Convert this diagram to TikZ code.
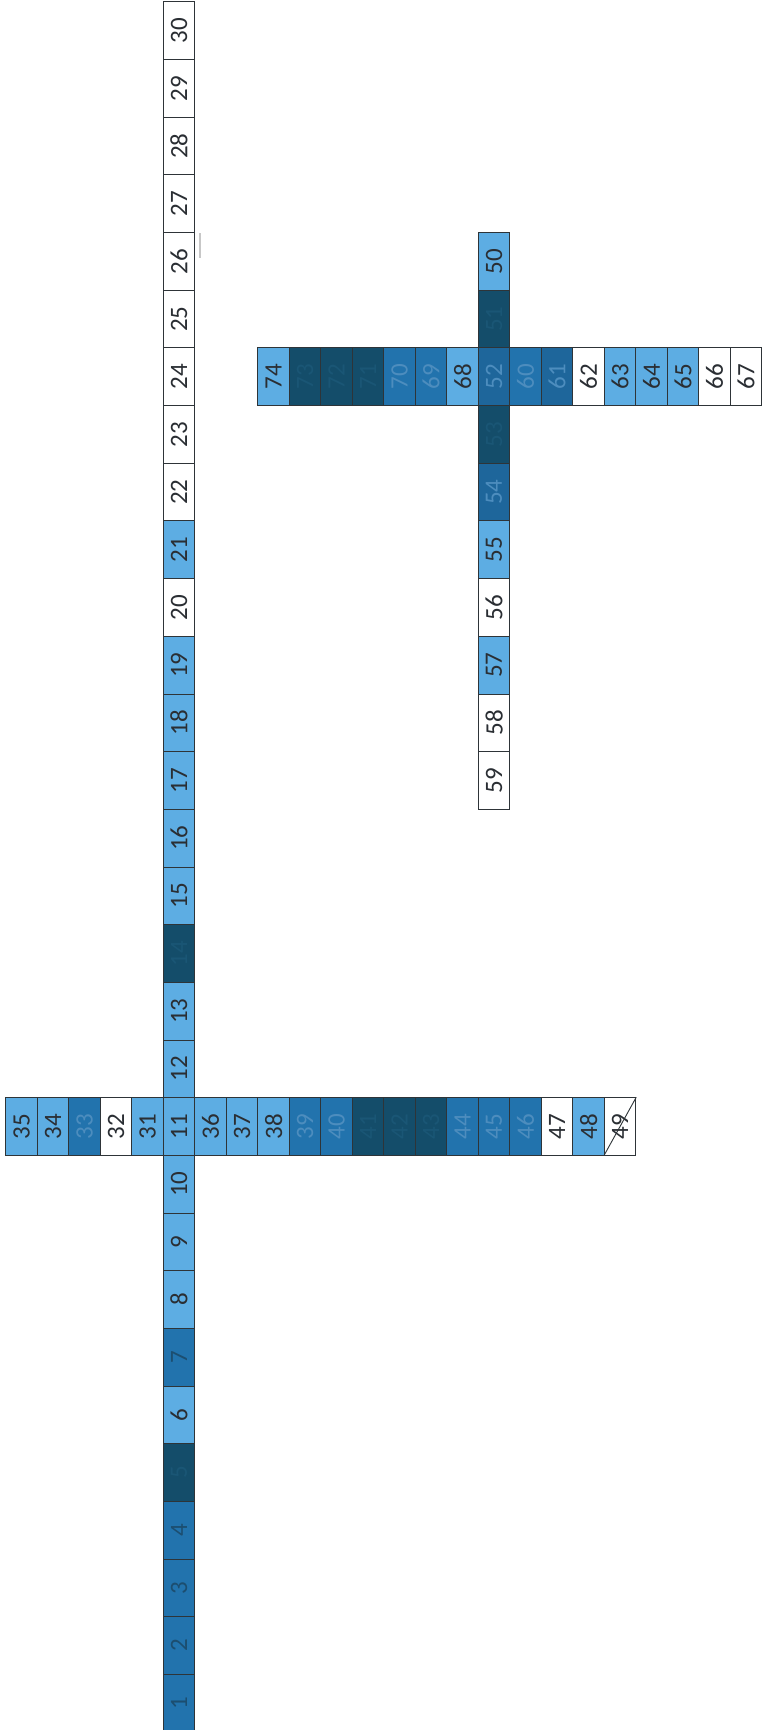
\documentclass[tikz,border=0pt]{standalone}
\usepackage{fontspec}
\setmainfont{Carlito}
\definecolor{bordc}{HTML}{2E3438}
\definecolor{lightb}{HTML}{5DADE3}
\definecolor{medb}{HTML}{2273AD}
\definecolor{medbb}{HTML}{1E669B}
\definecolor{darkb}{HTML}{144D6A}
\definecolor{txt}{HTML}{2A2E33}
\definecolor{medtxt}{HTML}{4D8DBE}
\definecolor{medtxtd}{HTML}{1C4E70}
\definecolor{darktxt}{HTML}{1A5675}
\tikzset{
  cellbox/.style={draw=bordc, line width=0.9pt, rectangle, rotate=90,
    minimum width=57.67pt, minimum height=31.5pt, inner sep=0pt,
    font=\fontsize{25}{25}\selectfont},
  boxw/.style={cellbox, fill=white, text=txt},
  boxl/.style={cellbox, fill=lightb, text=txt},
  boxm/.style={cellbox, fill=medb, text=medtxt},
  boxmd/.style={cellbox, fill=medb, text=medtxtd},
  boxmm/.style={cellbox, fill=medbb, text=medtxt},
  boxd/.style={cellbox, fill=darkb, text=darktxt},
}
\newcommand\mycell[4]{\node[#3] (n#4) at ({5.8+31.5*#1+15.75},{1.9+57.67*#2+28.835}) {#4};}
\begin{document}
\begin{tikzpicture}[x=1pt,y=-1pt]
\useasboundingbox (0,0) rectangle (763,1730);
% crossbar at cell 11
\foreach \c/\s/\t in {0/boxl/35,1/boxl/34,2/boxm/33,3/boxw/32,4/boxl/31,6/boxl/36,7/boxl/37,8/boxl/38,9/boxm/39,10/boxm/40,11/boxd/41,12/boxd/42,13/boxd/43,14/boxm/44,15/boxm/45,16/boxm/46,17/boxw/47,18/boxl/48,19/boxw/49}{
  \edef\tmp{\noexpand\mycell{\c}{19}{\s}{\t}}\tmp
}
% main column
\foreach \k/\s in {1/boxmd,2/boxmd,3/boxmd,4/boxmd,5/boxd,6/boxl,7/boxmd,8/boxl,9/boxl,10/boxl,11/boxl,12/boxl,13/boxl,14/boxd,15/boxl,16/boxl,17/boxl,18/boxl,19/boxl,20/boxw,21/boxl,22/boxw,23/boxw,24/boxw,25/boxw,26/boxw,27/boxw,28/boxw,29/boxw,30/boxw}{
  \pgfmathtruncatemacro\r{30-\k}
  \edef\tmp{\noexpand\mycell{5}{\r}{\s}{\k}}\tmp
}
% right cross, horizontal bar
\foreach \c/\s/\t in {8/boxl/74,9/boxd/73,10/boxd/72,11/boxd/71,12/boxm/70,13/boxm/69,14/boxl/68,16/boxm/60,17/boxmm/61,18/boxw/62,19/boxl/63,20/boxl/64,21/boxl/65,22/boxw/66,23/boxw/67}{
  \edef\tmp{\noexpand\mycell{\c}{6}{\s}{\t}}\tmp
}
% right cross, vertical bar
\foreach \r/\s/\t in {4/boxl/50,5/boxd/51,6/boxmm/52,7/boxd/53,8/boxmm/54,9/boxl/55,10/boxw/56,11/boxl/57,12/boxw/58,13/boxw/59}{
  \edef\tmp{\noexpand\mycell{15}{\r}{\s}{\t}}\tmp
}
% strike through 49
\draw[bordc, line width=0.9pt] (n49.north west) -- (n49.south east);
% faint scan mark beside 26
\draw[black!22, line width=1.6pt] (200,233) -- (200,258);
\end{tikzpicture}
\end{document}
